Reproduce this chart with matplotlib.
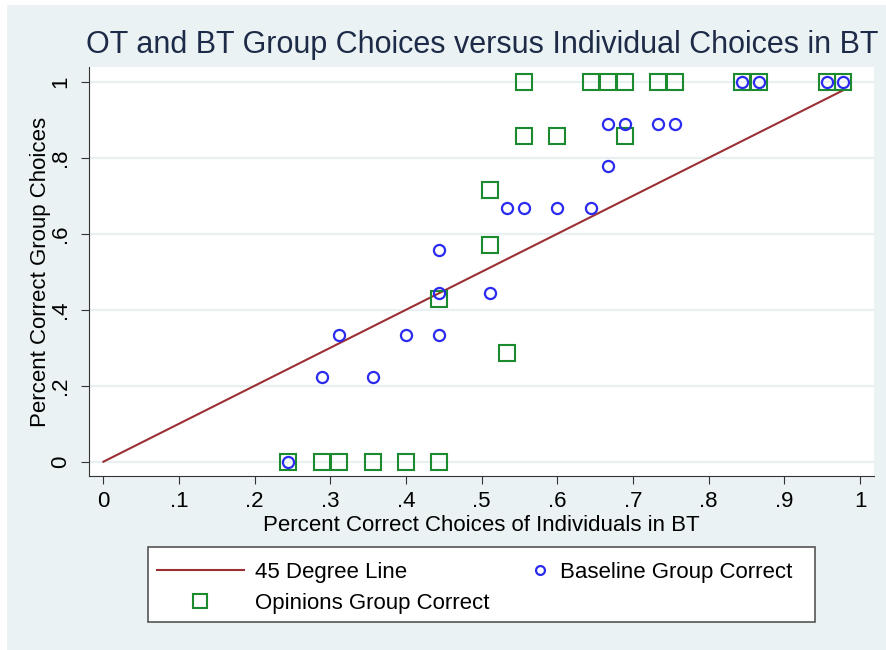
import matplotlib
matplotlib.use("Agg")
import matplotlib.pyplot as plt
from matplotlib.patches import Rectangle

# baseline groups (circles)
base_x = [0.844, 0.867, 0.956, 0.978,
          0.667, 0.689, 0.733, 0.756,
          0.667,
          0.533, 0.556, 0.600, 0.644,
          0.444,
          0.444, 0.511,
          0.311, 0.400, 0.444,
          0.289, 0.356,
          0.244]
base_y = [1, 1, 1, 1,
          0.889, 0.889, 0.889, 0.889,
          0.778,
          0.667, 0.667, 0.667, 0.667,
          0.556,
          0.444, 0.444,
          0.333, 0.333, 0.333,
          0.222, 0.222,
          0.0]

# opinions groups (squares)
opin_x = [0.556, 0.644, 0.667, 0.689, 0.733, 0.756, 0.844, 0.867, 0.956, 0.978,
          0.556, 0.600, 0.689,
          0.511,
          0.511,
          0.444,
          0.533,
          0.244, 0.289, 0.311, 0.356, 0.400, 0.444]
opin_y = [1, 1, 1, 1, 1, 1, 1, 1, 1, 1,
          0.857, 0.857, 0.857,
          0.714,
          0.571,
          0.429,
          0.286,
          0, 0, 0, 0, 0, 0]

line_x = [0, 0.978]

xticks = [0, .1, .2, .3, .4, .5, .6, .7, .8, .9, 1]
xlabels = ["0", ".1", ".2", ".3", ".4", ".5", ".6", ".7", ".8", ".9", "1"]
yticks = [0, .2, .4, .6, .8, 1]
ylabels = ["0", ".2", ".4", ".6", ".8", "1"]

plt.rcParams["font.family"] = ["Liberation Sans", "DejaVu Sans"]

W, H = 886, 650
fs = 16
fig = plt.figure(figsize=(W / 100, H / 100), dpi=100, facecolor="white")
fig.patches.append(Rectangle((7 / W, 0), 1, 1 - 5 / H, transform=fig.transFigure,
                             facecolor="#eaf2f3", edgecolor="none", zorder=-10))

ax = fig.add_axes([89 / W, 1 - 476 / H, (874 - 89) / W, (476 - 67) / H])
ax.set_facecolor("white")

ln = ax.plot(line_x, line_x, color="#9b2f33", lw=1.5, label="45 Degree Line", zorder=2)
sq = ax.plot(opin_x, opin_y, ls="none", marker="s", ms=12, mfc="none",
             mec="#1c8a2e", mew=1.5, label="Opinions Group Correct", zorder=3)
ci = ax.plot(base_x, base_y, ls="none", marker="o", ms=8, mfc="none",
             mec="#2b2bf0", mew=1.6, label="Baseline Group Correct", zorder=4)

ax.set_xlim(-0.019, 1.0185)
ax.set_ylim(-0.0376, 1.039)
ax.set_xticks(xticks, xlabels, fontsize=fs)
ax.set_yticks(yticks, ylabels, fontsize=fs, rotation=90, va="center")
ax.grid(axis="y", color="#e9f0f2", lw=1.6)
ax.set_axisbelow(True)
for s in ["top", "right"]:
    ax.spines[s].set_visible(False)
ax.spines["left"].set_color("#333333")
ax.spines["bottom"].set_color("#333333")
ax.tick_params(direction="out", length=6, color="#333333")
ax.tick_params(axis="x", pad=5)
ax.tick_params(axis="y", pad=7)

ax.set_xlabel("Percent Correct Choices of Individuals in BT", fontsize=fs, labelpad=2)
ax.set_ylabel("Percent Correct Group Choices", fontsize=fs, labelpad=-1)
fig.text(482 / W, 1 - 45 / H, "OT and BT Group Choices versus Individual Choices in BT",
         ha="center", va="center", fontsize=22, color="#1e2b48")

# legend: frame drawn by hand, two column blocks
fig.patches.append(Rectangle((148 / W, 1 - 622 / H), (815 - 148) / W, 75 / H,
                             transform=fig.transFigure, facecolor="white",
                             edgecolor="#555555", lw=1.2, zorder=5))
fig.legend([ln[0], sq[0]], ["45 Degree Line", "Opinions Group Correct"],
           loc="upper left", bbox_to_anchor=(157 / W, 1 - 562 / H),
           fontsize=fs, frameon=False, borderpad=0, borderaxespad=0,
           handlelength=3.9, handletextpad=0.5, labelspacing=0.45, markerscale=0.8)
fig.legend([ci[0]], ["Baseline Group Correct"],
           loc="upper left", bbox_to_anchor=(529 / W, 1 - 562 / H),
           fontsize=fs, frameon=False, borderpad=0, borderaxespad=0,
           handlelength=1.0, handletextpad=0.4, markerscale=0.8)

fig.savefig("out.png", dpi=100, facecolor=fig.get_facecolor())
